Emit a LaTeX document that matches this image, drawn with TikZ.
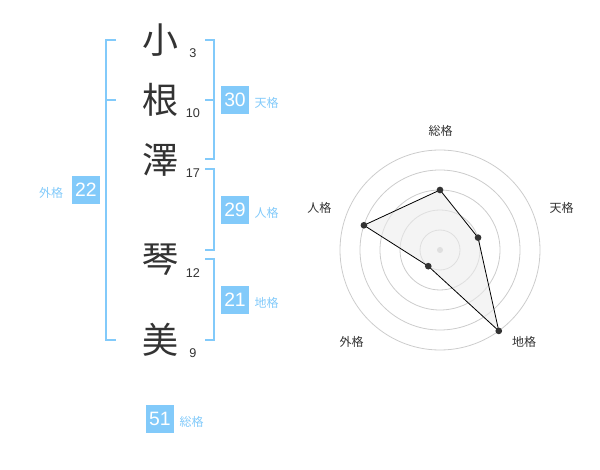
\documentclass[tikz,border=0pt]{standalone}
\usepackage{fontspec}
\setmainfont{Liberation Sans}
\newfontfamily\jp{Noto Sans CJK JP}
\usepackage{tikz}
\usetikzlibrary{positioning}
\definecolor{cblue}{RGB}{130,202,250}
\definecolor{cink}{RGB}{51,51,51}

\begin{document}
\begin{tikzpicture}[x=0.75pt, y=-0.75pt,
      kanji/.style={font=\jp\fontsize{27}{27}\selectfont, text=cink, inner sep=0pt},
      num/.style={font=\fontsize{9.5}{10}\selectfont, text=cink, inner sep=0pt},
      box/.style={fill=cblue, text=white, minimum size=21.5pt, inner sep=0pt,
                  font=\fontsize{14.5}{15}\selectfont},
      lbl/.style={font=\jp\fontsize{9}{10}\selectfont, text=cblue, inner sep=0pt},
      brk/.style={draw=cblue, line width=1.5pt},
      ring/.style={draw=gray!40, line width=0.6pt},
      dot/.style={circle, fill=cink, inner sep=0pt, minimum size=5pt},
      axis/.style={font=\jp\fontsize{9}{10}\selectfont, text=cink, inner sep=0pt}
    ]
    \useasboundingbox (0,0) rectangle (600,470);

    % name, one character per line
    \node[kanji] (k1) at (160,40) {小};
    \node[kanji] (k2) at (160,100) {根};
    \node[kanji] (k3) at (160,160) {澤};
    \node[kanji] (k4) at (160,260) {琴};
    \node[kanji] (k5) at (160,340) {美};
    \node[num] (n1) at (193,53) {3};
    \node[num] (n2) at (193,113) {10};
    \node[num] (n3) at (193,173) {17};
    \node[num] (n4) at (193,273) {12};
    \node[num] (n5) at (193,353) {9};

    % brackets
    \draw[brk] (116,40) -- (106,40) -- (106,340) -- (116,340);
    \draw[brk] (106,100) -- (116,100);
    \draw[brk] (205,40) -- (214,40) -- (214,159) -- (205,159);
    \draw[brk] (205,100) -- (214,100);
    \draw[brk] (205,169) -- (214,169) -- (214,250) -- (205,250);
    \draw[brk] (205,259) -- (214,259) -- (214,340) -- (205,340);

    % totals
    \node[box] (gai) at (86,190) {22};
    \node[lbl, left=6pt of gai, yshift=-2.5pt] (gai-l) {外格};
    \node[box] (ten) at (235,100) {30};
    \node[lbl, right=3.5pt of ten, yshift=-2.5pt] (ten-l) {天格};
    \node[box] (jin) at (235,210) {29};
    \node[lbl, right=3.5pt of jin, yshift=-2.5pt] (jin-l) {人格};
    \node[box] (chi) at (235,300) {21};
    \node[lbl, right=3.5pt of chi, yshift=-2.5pt] (chi-l) {地格};
    \node[box] (sou) at (160,419) {51};
    \node[lbl, right=3.5pt of sou, yshift=-2pt] (sou-l) {総格};

    % radar chart
    \begin{scope}[shift={(440,250)}, y=0.75pt]
      \foreach \r in {15,30,...,75}
        \draw[ring] (0,0) circle[radius=\r pt];
      \node[circle, fill=gray!40, inner sep=0pt, minimum size=4.5pt] (cen) at (0,0) {};
      \foreach \nm/\a/\r in {sou/90/60, ten/18/40, chi/-54/100, gai/-126/20, jin/162/80}
        \coordinate (p-\nm) at (\a:\r);
      \draw[fill=gray!15, fill opacity=0.6, draw=black, line width=0.6pt]
        (p-sou) -- (p-ten) -- (p-chi) -- (p-gai) -- (p-jin) -- cycle;
      \foreach \nm in {sou,ten,chi,gai,jin}
        \node[dot] (d-\nm) at (p-\nm) {};
      \node[axis] (a-sou) at (0.7,119.3) {総格};
      \node[axis] (a-ten) at (121.7,41.7) {天格};
      \node[axis] (a-chi) at (84,-91.7) {地格};
      \node[axis] (a-gai) at (-88.3,-91.7) {外格};
      \node[axis] (a-jin) at (-120.7,41.7) {人格};
    \end{scope}
  \end{tikzpicture}
\end{document}
